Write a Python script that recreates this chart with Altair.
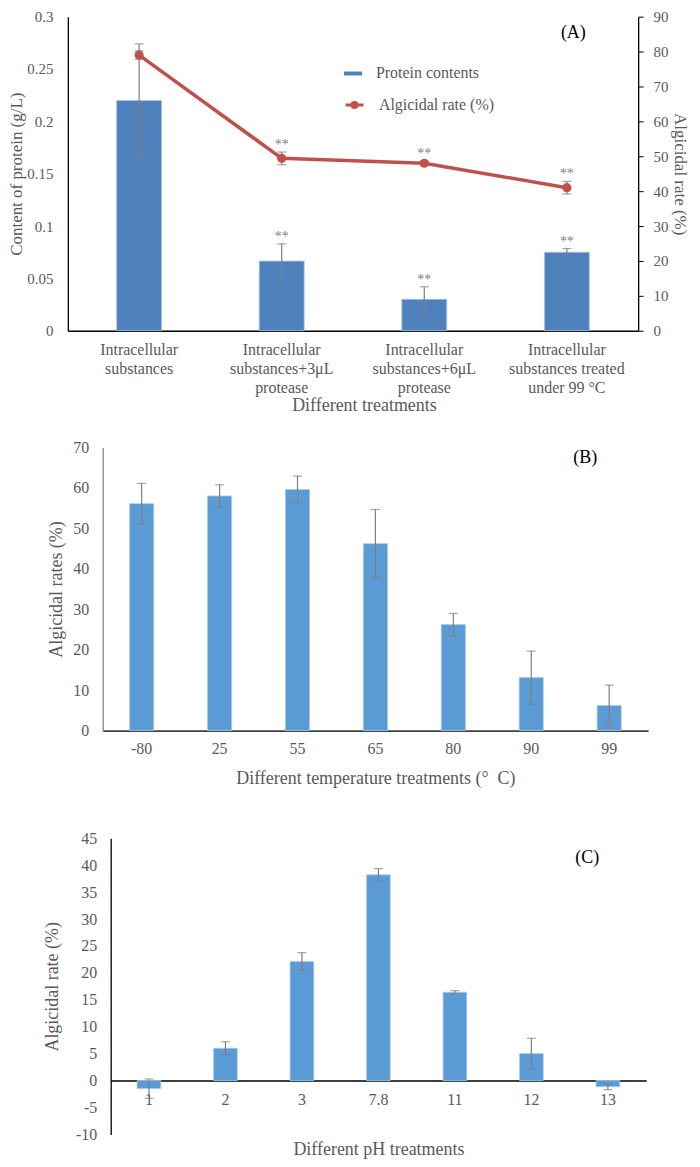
import altair as alt
import pandas as pd

FONT = "Liberation Serif"
GRAY = "#595959"
ERR = "#7F7F7F"
BLUE_A = "#4F81BD"
BLUE = "#5B9BD5"
RED = "#C0504D"

# ---------------- Panel A data ----------------
a_cats = [
    "Intracellular|substances",
    "Intracellular|substances+3μL|protease",
    "Intracellular|substances+6μL|protease",
    "Intracellular|substances treated|under 99 °C",
]
a_protein = [0.220, 0.0665, 0.030, 0.075]
a_protein_err = [0.054, 0.0165, 0.012, 0.0035]
a_rate = [79.0, 49.4, 48.0, 41.0]
a_rate_err = [1.2, 1.8, 0.6, 1.8]
a_sig_protein = ["", "**", "**", "**"]
a_sig_rate = ["", "**", "**", "**"]

# ---------------- Panel B data ----------------
b_temps = ["-80", "25", "55", "65", "80", "90", "99"]
b_rate = [56.1, 58.0, 59.6, 46.2, 26.2, 13.1, 6.2]
b_err = [5.0, 2.75, 3.3, 8.45, 2.75, 6.55, 5.05]

# ---------------- Panel C data ----------------
c_ph = ["1", "2", "3", "7.8", "11", "12", "13"]
c_rate = [-1.5, 6.0, 22.1, 38.2, 16.4, 5.0, -1.15]
c_err = [1.8, 1.2, 1.65, 1.15, 0.3, 2.85, 0.55]


def lo(v, e):
    return [a - b for a, b in zip(v, e)]


def hi(v, e):
    return [a + b for a, b in zip(v, e)]


dfA = pd.DataFrame({
    "cat": a_cats, "protein": a_protein,
    "plo": lo(a_protein, a_protein_err), "phi": hi(a_protein, a_protein_err),
    "rate": a_rate, "rlo": lo(a_rate, a_rate_err), "rhi": hi(a_rate, a_rate_err),
    "sp": a_sig_protein, "sr": a_sig_rate,
})
dfB = pd.DataFrame({"t": b_temps, "v": b_rate, "lo": lo(b_rate, b_err), "hi": hi(b_rate, b_err)})
dfC = pd.DataFrame({"t": c_ph, "v": c_rate, "lo": lo(c_rate, c_err), "hi": hi(c_rate, c_err)})

# ================= Panel A =================
xA = alt.X("cat:N", sort=a_cats,
           scale=alt.Scale(paddingInner=0.685, paddingOuter=0.3425),
           axis=alt.Axis(title="Different treatments", labelExpr="split(datum.label, '|')",
                         labelAngle=0, ticks=False, tickSize=0, labelPadding=11,
                         labelLineHeight=19, labelFontSize=16, titleFontSize=18,
                         titleX=297, titleY=75, titleBaseline="middle",
                         domainColor="#000000", domainWidth=1.3))


def yA(field):
    return alt.Y(field, type="quantitative", scale=alt.Scale(domain=[0, 0.3]),
                 axis=alt.Axis(values=[0, 0.05, 0.1, 0.15, 0.2, 0.25, 0.3], format="~g",
                               title="Content of protein (g/L)", ticks=False, tickSize=0,
                               labelPadding=15, labelFontSize=15, titleFontSize=17,
                               titleX=-51, titleBaseline="middle",
                               domainColor="#000000", domainWidth=1.3))


def yR(field):
    return alt.Y(field, type="quantitative", scale=alt.Scale(domain=[0, 90]),
                 axis=alt.Axis(orient="right", values=list(range(0, 91, 10)),
                               title="Algicidal rate (%)", ticks=True, tickSize=5,
                               tickColor="#000000", labelPadding=10, labelFontSize=15,
                               titleFontSize=17, titleX=41, titleBaseline="middle",
                               domainColor="#000000", domainWidth=1.3))


barsA = alt.Chart().mark_bar(stroke="#A9C4E6", strokeWidth=0.8).encode(
    x=xA, y=yA("protein"),
    fill=alt.Fill("s1:N", scale=alt.Scale(domain=["Protein contents"], range=[BLUE_A]),
                  legend=alt.Legend(orient="none", legendX=268, legendY=39, title=None,
                                    padding=0, symbolType="M-0.5,-0.11H0.5V0.11H-0.5Z",
                                    symbolSize=1296, symbolStrokeWidth=0, labelOffset=5,
                                    labelFontSize=16, labelColor=GRAY, labelFont=FONT)),
).transform_calculate(s1="'Protein contents'")
ruleA = alt.Chart().mark_rule(color=ERR, strokeWidth=1.2).encode(x=xA, y=yA("plo"), y2="phi:Q")
tloA = alt.Chart().mark_tick(color=ERR, size=9, thickness=1.2).encode(x=xA, y=yA("plo"))
thiA = alt.Chart().mark_tick(color=ERR, size=9, thickness=1.2).encode(x=xA, y=yA("phi"))
starA = alt.Chart().mark_text(color=ERR, fontSize=14, baseline="alphabetic", dy=-3).encode(
    x=xA, y=yA("phi"), text="sp:N")
left = alt.layer(barsA, ruleA, tloA, thiA, starA)

lineA = alt.Chart().mark_line(strokeWidth=3.5).encode(
    x=xA, y=yR("rate"),
    stroke=alt.Stroke("s2:N", scale=alt.Scale(domain=["Algicidal rate (%)"], range=[RED]),
                      legend=alt.Legend(orient="none", legendX=268, legendY=69, title=None,
                                        padding=0,
                                        symbolType="M-0.5,0H0.5M0.14,0A0.14,0.14,0,1,1,-0.14,0A0.14,0.14,0,1,1,0.14,0",
                                        symbolSize=1296, symbolStrokeWidth=3,
                                        symbolFillColor=RED, labelOffset=5,
                                        labelFontSize=16, labelColor=GRAY, labelFont=FONT)),
).transform_calculate(s2="'Algicidal rate (%)'")
rruleA = alt.Chart().mark_rule(color=ERR, strokeWidth=1.2).encode(x=xA, y=yR("rlo"), y2="rhi:Q")
rtloA = alt.Chart().mark_tick(color=ERR, size=9, thickness=1.2).encode(x=xA, y=yR("rlo"))
rthiA = alt.Chart().mark_tick(color=ERR, size=9, thickness=1.2).encode(x=xA, y=yR("rhi"))
ptsA = alt.Chart().mark_circle(size=85, color=RED, opacity=1).encode(x=xA, y=yR("rate"))
rstarA = alt.Chart().mark_text(color=ERR, fontSize=14, baseline="alphabetic", dy=-3).encode(
    x=xA, y=yR("rhi"), text="sr:N")
right = alt.layer(lineA, rruleA, rtloA, rthiA, ptsA, rstarA)

lblA = alt.Chart(pd.DataFrame({"t": ["(A)"]})).mark_text(
    fontSize=18, color="#000000", font=FONT).encode(x=alt.value(507), y=alt.value(16), text="t:N")

A = alt.layer(left, right, lblA, data=dfA).resolve_scale(y="independent").properties(
    width=572, height=315)

# ================= Panel B =================
xB = alt.X("t:N", sort=b_temps,
           scale=alt.Scale(range=[35, 582], paddingInner=0.69, paddingOuter=0.345),
           axis=alt.Axis(title="Different temperature treatments (°\u00a0 C)", labelAngle=0,
                         ticks=False, tickSize=0, labelPadding=10, labelFontSize=16,
                         titleFontSize=18, titleY=48, titleBaseline="middle",
                         domainColor="#404040", domainWidth=1.8))


def yB(field):
    return alt.Y(field, type="quantitative", scale=alt.Scale(domain=[0, 70]),
                 axis=alt.Axis(values=list(range(0, 71, 10)), title="Algicidal rates (%)",
                               offset=-35, ticks=False, tickSize=0, labelPadding=14,
                               labelFontSize=16, titleFontSize=18, titleX=-46,
                               titleBaseline="middle", domainColor="#868686", domainWidth=1.3))


barsB = alt.Chart().mark_bar(color=BLUE, stroke="#A9CBEA", strokeWidth=0.8).encode(x=xB, y=yB("v"))
ruleB = alt.Chart().mark_rule(color=ERR, strokeWidth=1.2).encode(x=xB, y=yB("lo"), y2="hi:Q")
tloB = alt.Chart().mark_tick(color=ERR, size=9, thickness=1.2).encode(x=xB, y=yB("lo"))
thiB = alt.Chart().mark_tick(color=ERR, size=9, thickness=1.2).encode(x=xB, y=yB("hi"))
lblB = alt.Chart(pd.DataFrame({"t": ["(B)"]})).mark_text(
    fontSize=18, color="#000000", font=FONT).encode(x=alt.value(519), y=alt.value(11), text="t:N")
B = alt.layer(barsB, ruleB, tloB, thiB, data=dfB) + lblB
B = B.properties(width=582, height=284)

# ================= Panel C =================
xC = alt.X("t:N", sort=c_ph,
           scale=alt.Scale(range=[43, 580], paddingInner=0.69, paddingOuter=0.345),
           axis=alt.Axis(title="Different pH treatments", labelAngle=0, offset=-54,
                         ticks=False, tickSize=0, labelPadding=11, labelFontSize=16,
                         titleFontSize=18, titleY=69, titleBaseline="middle",
                         domainColor="#000000", domainWidth=1.5))


def yC(field):
    return alt.Y(field, type="quantitative", scale=alt.Scale(domain=[-10, 45]),
                 axis=alt.Axis(values=list(range(-10, 46, 5)), title="Algicidal rate (%)",
                               labelExpr="'' + datum.value",
                               offset=-43, ticks=False, tickSize=0, labelPadding=14,
                               labelFontSize=16, titleFontSize=18, titleX=-58,
                               titleBaseline="middle", domainColor="#000000", domainWidth=1.3))


barsC = alt.Chart().mark_bar(color=BLUE, stroke="#A9CBEA", strokeWidth=0.8).encode(x=xC, y=yC("v"))
ruleC = alt.Chart().mark_rule(color=ERR, strokeWidth=1.2).encode(x=xC, y=yC("lo"), y2="hi:Q")
tloC = alt.Chart().mark_tick(color=ERR, size=9, thickness=1.2).encode(x=xC, y=yC("lo"))
thiC = alt.Chart().mark_tick(color=ERR, size=9, thickness=1.2).encode(x=xC, y=yC("hi"))
lblC = alt.Chart(pd.DataFrame({"t": ["(C)"]})).mark_text(
    fontSize=18, color="#000000", font=FONT).encode(x=alt.value(521), y=alt.value(20), text="t:N")
C = alt.layer(barsC, ruleC, tloC, thiC, data=dfC) + lblC
C = C.properties(width=582, height=297,
                 title=alt.TitleParams(text="\u00a0", fontSize=14, offset=4))

chart = alt.vconcat(A, B, C, spacing=25).properties(
    padding={"left": 0, "top": 0, "right": 4, "bottom": 0}
).configure(font=FONT).configure_view(stroke=None).configure_axis(
    grid=False, labelColor=GRAY, titleColor=GRAY, labelFont=FONT, titleFont=FONT,
    titleFontWeight="normal"
)

chart.save("out.html", embed_options={"renderer": "svg", "actions": False})
